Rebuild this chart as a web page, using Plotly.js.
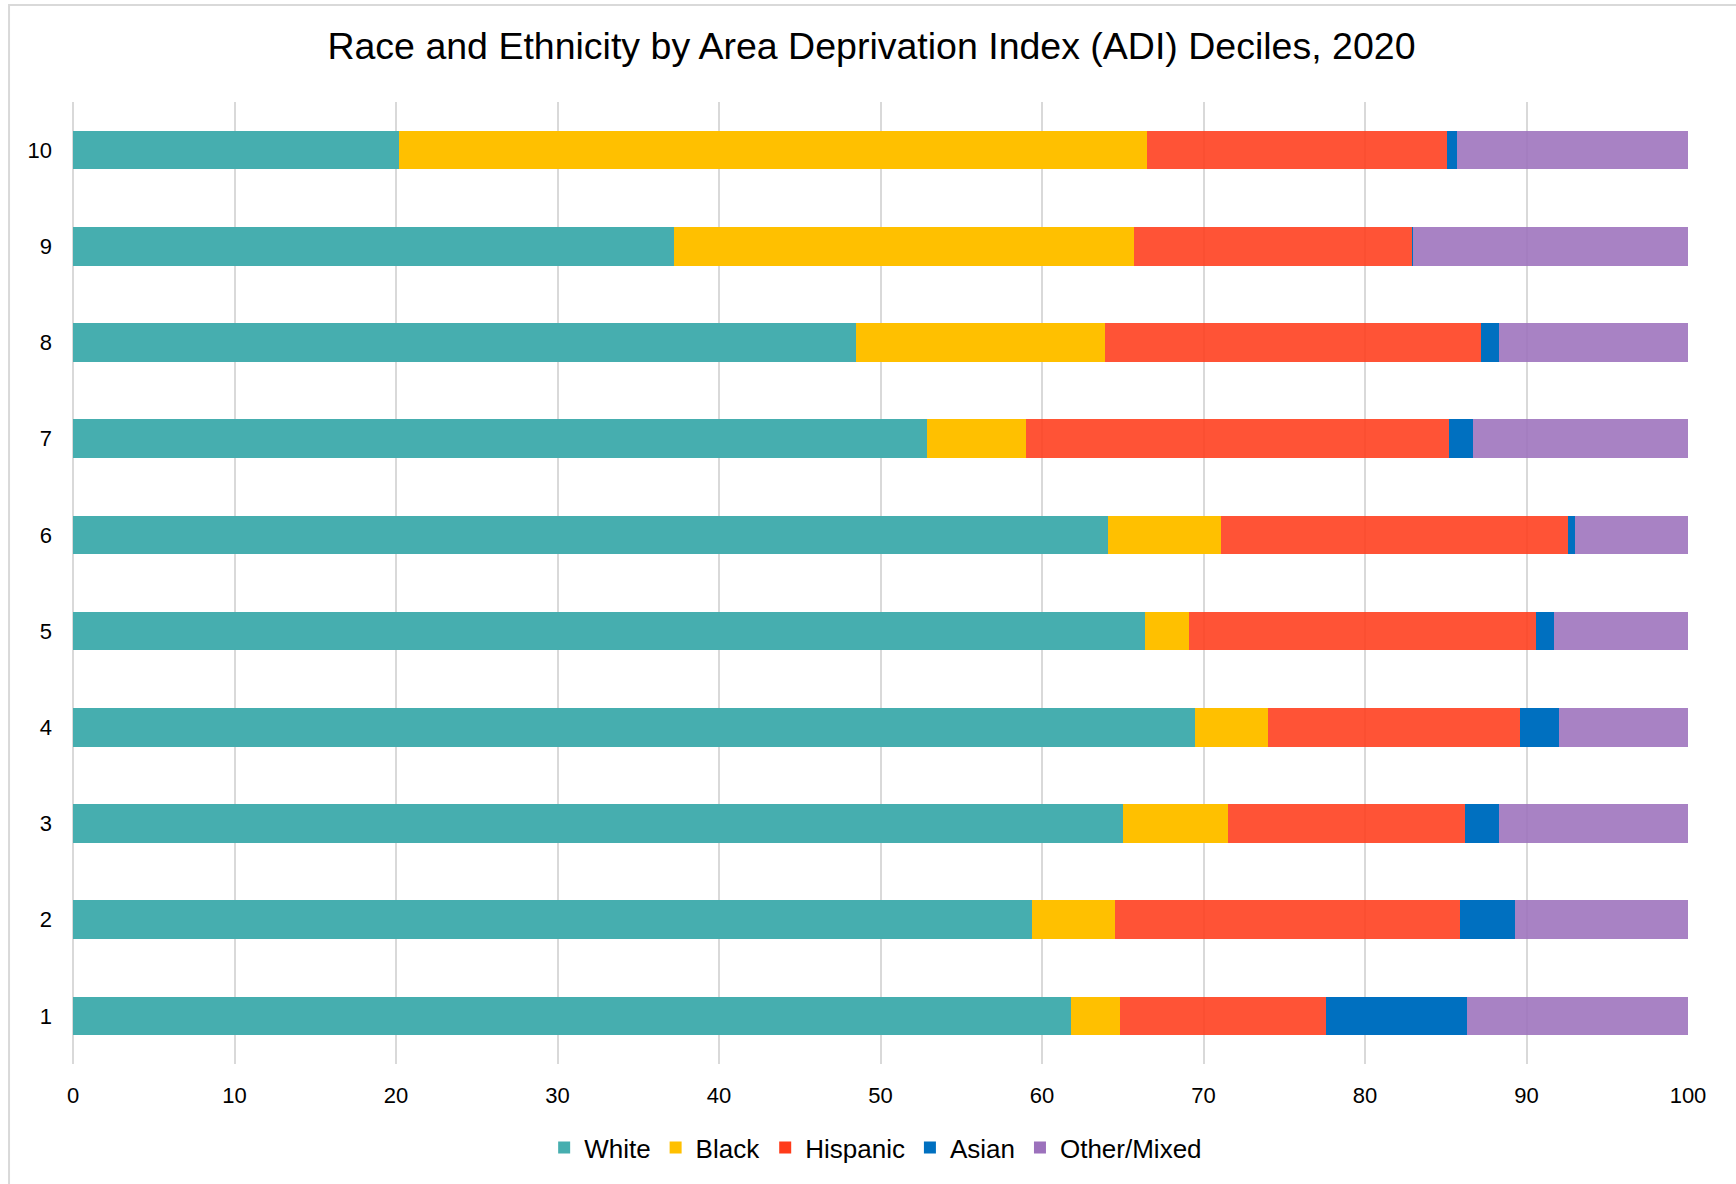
<!DOCTYPE html>
<html>
<head>
<meta charset="utf-8">
<script src="https://cdn.plot.ly/plotly-3.0.1.min.js"></script>
<style>
  html, body { margin: 0; padding: 0; background: #ffffff; }
  #chart { width: 1736px; height: 1184px; }
</style>
</head>
<body>
<div id="chart"></div>
<script>
// ADI deciles (bottom to top)
const deciles = ['1', '2', '3', '4', '5', '6', '7', '8', '9', '10'];

// Percent of population by race/ethnicity in each decile
const white    = [61.8, 59.4, 65.0, 69.5, 66.4, 64.1, 52.9, 48.5, 37.2, 20.2];
const black    = [ 3.0,  5.1,  6.5,  4.5,  2.7,  7.0,  6.1, 15.4, 28.5, 46.3];
const hispanic = [12.8, 21.4, 14.7, 15.6, 21.5, 21.5, 26.2, 23.3, 17.2, 18.6];
const asian    = [ 8.7,  3.4,  2.1,  2.4,  1.1,  0.4,  1.5,  1.1,  0.1,  0.6];
const other    = [13.7, 10.7, 11.7,  8.0,  8.3,  7.0, 13.3, 11.7, 17.0, 14.3];

const seriesNames = ['White', 'Black', 'Hispanic', 'Asian', 'Other/Mixed'];
const seriesData = [white, black, hispanic, asian, other];
const seriesColors = ['#46AEAF', '#FFC000', '#FF3B1A', '#0070C0', '#9C71BC'];
const seriesOpacity = [1, 1, 0.88, 1, 0.88];

const FONT = 'Liberation Sans, Arial, Helvetica, sans-serif';

const traces = seriesNames.map((name, i) => ({
  type: 'bar',
  orientation: 'h',
  name: name,
  y: deciles,
  x: seriesData[i],
  marker: { color: seriesColors[i], opacity: seriesOpacity[i], line: { width: 0 } },
  hoverinfo: 'name+x'
}));

const layout = {
  width: 1736,
  height: 1184,
  paper_bgcolor: '#ffffff',
  plot_bgcolor: '#ffffff',
  barmode: 'stack',
  bargap: 0.6,
  margin: { l: 73, r: 48, t: 102, b: 120, pad: 0 },
  font: { family: FONT, size: 22, color: '#000000' },
  title: {
    text: 'Race and Ethnicity by Area Deprivation Index (ADI) Deciles, 2020',
    font: { family: FONT, size: 37.5, color: '#000000' },
    x: 0.502, xref: 'container', xanchor: 'center',
    y: 0.961, yref: 'container', yanchor: 'middle'
  },
  xaxis: {
    range: [0, 100],
    dtick: 10,
    tick0: 0,
    showgrid: true,
    gridcolor: '#d9d9d9',
    gridwidth: 2,
    zeroline: true,
    zerolinecolor: '#d9d9d9',
    zerolinewidth: 2,
    showline: false,
    ticks: '',
    ticklabelstandoff: 16,
    tickfont: { family: FONT, size: 22, color: '#000000' },
    fixedrange: true
  },
  yaxis: {
    type: 'category',
    categoryorder: 'array',
    categoryarray: deciles,
    range: [-0.5, 9.5],
    showgrid: false,
    zeroline: false,
    showline: false,
    ticks: '',
    ticklabelstandoff: 20,
    tickfont: { family: FONT, size: 22, color: '#000000' },
    fixedrange: true
  },
  legend: {
    orientation: 'h',
    x: 0.497, xanchor: 'center',
    y: -0.087, yanchor: 'middle',
    font: { family: FONT, size: 26, color: '#000000' },
    itemwidth: 30,
    traceorder: 'normal',
    bgcolor: 'rgba(0,0,0,0)'
  },
  shapes: [{
    type: 'rect',
    xref: 'paper', yref: 'paper',
    x0: -0.0396, x1: 1.05,
    y0: -0.14, y1: 1.1008,
    line: { color: '#d9d9d9', width: 2 },
    fillcolor: 'rgba(0,0,0,0)',
    layer: 'below'
  }]
};

Plotly.newPlot('chart', traces, layout, { displayModeBar: false, staticPlot: true });
</script>
</body>
</html>
